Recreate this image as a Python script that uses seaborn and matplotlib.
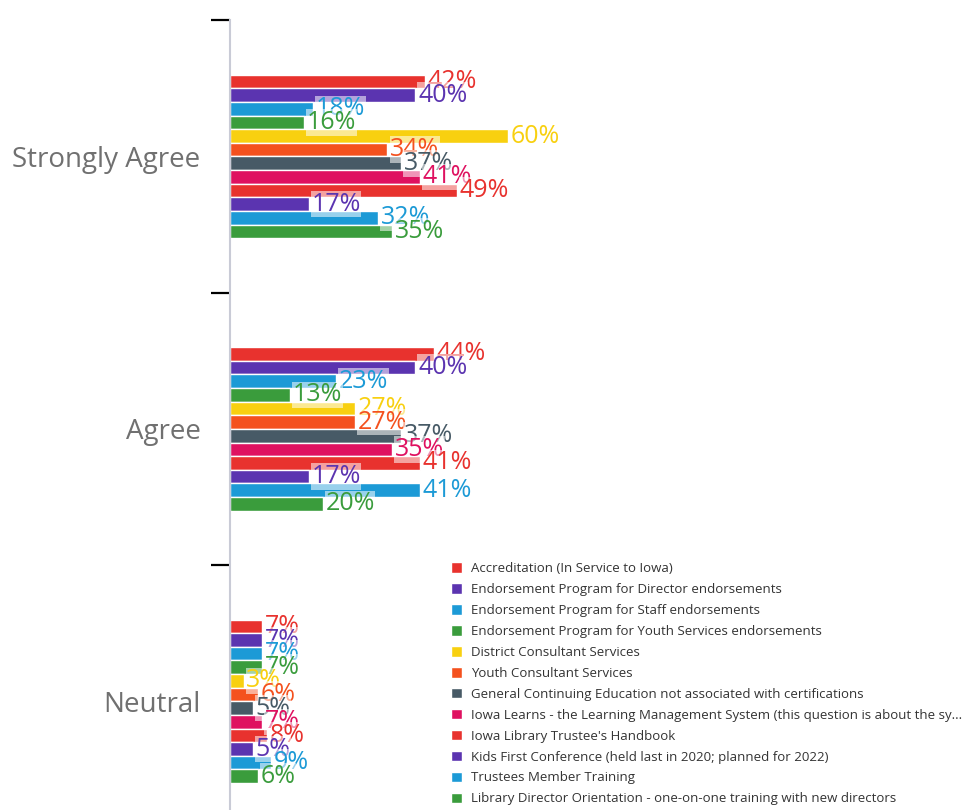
import pandas as pd
import matplotlib.pyplot as plt
import seaborn as sns
from matplotlib.ticker import FixedLocator

# Survey answers (rows) and the programs asked about (hue)
categories = ["Strongly Agree", "Agree", "Neutral"]
programs = [
    "Accreditation (In Service to Iowa)",
    "Endorsement Program for Director endorsements",
    "Endorsement Program for Staff endorsements",
    "Endorsement Program for Youth Services endorsements",
    "District Consultant Services",
    "Youth Consultant Services",
    "General Continuing Education not associated with certifications",
    "Iowa Learns - the Learning Management System (this question is about the sy...",
    "Iowa Library Trustee's Handbook",
    "Kids First Conference (held last in 2020; planned for 2022)",
    "Trustees Member Training",
    "Library Director Orientation - one-on-one training with new directors",
]
strongly_agree = [42, 40, 18, 16, 60, 34, 37, 41, 49, 17, 32, 35]
agree = [44, 40, 23, 13, 27, 27, 37, 35, 41, 17, 41, 20]
neutral = [7, 7, 7, 7, 3, 6, 5, 7, 8, 5, 9, 6]

colors = ["#e8322e", "#5b34b0", "#1c9ad6", "#3a9c3c", "#f8d010", "#f4511e",
          "#475a66", "#df1160", "#e8322e", "#5b34b0", "#1c9ad6", "#3a9c3c"]

rows = []
for cat, vals in zip(categories, [strongly_agree, agree, neutral]):
    for prog, v in zip(programs, vals):
        rows.append({"answer": cat, "program": prog, "pct": v})
df = pd.DataFrame(rows)

sns.set_style("white")
plt.rcParams['font.family'] = ['Open Sans', 'DejaVu Sans']

fig = plt.figure(figsize=(9.65, 8.1), dpi=100)
ax = fig.add_axes([0.238, -0.034, 0.481, 1.009])

sns.barplot(data=df, y="answer", x="pct", hue="program", palette=colors,
            orient="h", width=0.6, saturation=1, ax=ax, errorbar=None)

# percent labels in the bar colour
for i, cont in enumerate(ax.containers):
    vals = [strongly_agree[i], agree[i], neutral[i]]
    ax.bar_label(cont, labels=[f"{v}%" for v in vals], color=colors[i],
                 fontsize=18, padding=2,
                 bbox=dict(facecolor="white", edgecolor="none", pad=0.5, alpha=0.55))

handles, labels = ax.get_legend_handles_labels()
ax.get_legend().remove()

ax.set_xlim(0, 100)
ax.set_ylim(2.5, -0.5)
ax.set_xlabel("")
ax.set_ylabel("")
ax.set_xticks([])
ax.set_yticks([0, 1, 2])
ax.set_yticklabels(categories, fontsize=20, color="#707070")
ax.yaxis.set_minor_locator(FixedLocator([-0.5, 0.5, 1.5, 2.5]))
ax.tick_params(axis="y", which="major", length=0, pad=21)
ax.tick_params(axis="y", which="minor", length=14, width=1.6, color="black", left=True)

for side in ["top", "right", "bottom"]:
    ax.spines[side].set_visible(False)
ax.spines["left"].set_color("#c9cbd6")
ax.spines["left"].set_linewidth(1.5)

fig.legend(handles, labels, loc="upper left", bbox_to_anchor=(0.462, 1 - 557 / 810),
           frameon=False, fontsize=9.5, handlelength=0.85, handleheight=0.85,
           handletextpad=0.65, labelspacing=0.6, borderaxespad=0,
           labelcolor="#333333")

plt.savefig("out.png", dpi=100, facecolor="white")
